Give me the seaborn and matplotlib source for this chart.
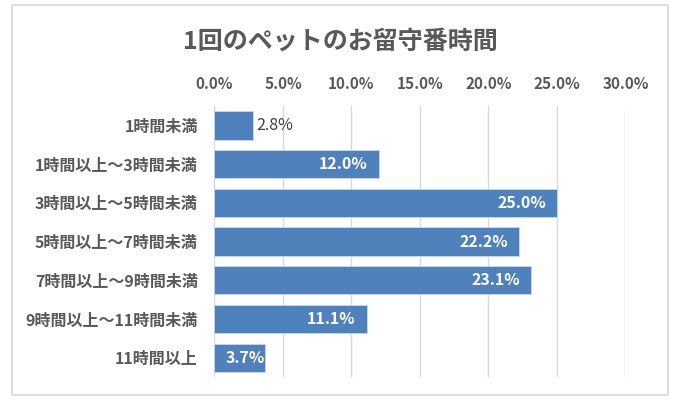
import matplotlib
matplotlib.use('Agg')
import matplotlib.pyplot as plt
from matplotlib.patches import Rectangle
from matplotlib.ticker import FuncFormatter, MultipleLocator
import pandas as pd
import seaborn as sns

# Data
categories = ['1時間未満', '1時間以上～3時間未満', '3時間以上～5時間未満',
              '5時間以上～7時間未満', '7時間以上～9時間未満',
              '9時間以上～11時間未満', '11時間以上']
shares = [2.8, 12.0, 25.0, 22.2, 23.1, 11.1, 3.7]
title = '1回のペットのお留守番時間'

sns.set_style('white')
plt.rcParams['font.family'] = ['Noto Sans CJK JP', 'DejaVu Sans']

text_grey = '#595959'
bar_blue = '#4f81bd'

df = pd.DataFrame({'category': categories, 'share': shares})

fig = plt.figure(figsize=(7, 4.05), dpi=100, facecolor='white')
# Chart frame like the spreadsheet chart area
fig.patches.append(Rectangle((12 / 700, 1 - 395 / 405), 656 / 700, 390 / 405,
                             transform=fig.transFigure, fill=False,
                             edgecolor='#d9d9d9', lw=1.2))
ax = fig.add_axes([0.3064, 0.0691, 0.5871, 0.669])

sns.barplot(data=df, x='share', y='category', orient='h', color=bar_blue,
            saturation=1, width=0.73, edgecolor='#c9d9ee', linewidth=0.6,
            ax=ax, zorder=3)

ax.set_xlim(0, 30)
ax.set_ylim(6.5, -0.5)
ax.xaxis.set_major_locator(MultipleLocator(5))
ax.xaxis.set_major_formatter(FuncFormatter(lambda v, p: f'{v:.1f}%'))
ax.xaxis.tick_top()
ax.grid(axis='x', color='#d9d9d9', lw=1, zorder=0)
ax.tick_params(axis='both', length=0, colors=text_grey)
ax.tick_params(axis='x', pad=10, labelsize=11)
ax.tick_params(axis='y', pad=12, labelsize=11.5)
for lab in ax.get_xticklabels() + ax.get_yticklabels():
    lab.set_fontweight('bold')
for s in ax.spines.values():
    s.set_visible(False)
ax.set_xlabel('')
ax.set_ylabel('')

# Data labels: inside end in white, outside for the shortest bar,
# short bars keep the label inside from the bar start
for patch, val in zip(ax.patches, shares):
    yc = patch.get_y() + patch.get_height() / 2
    end = patch.get_x() + patch.get_width()
    label = f'{val:.1f}%'
    if val < 3.0:
        ax.text(end + 0.25, yc, label, va='center', ha='left',
                color='#404040', fontsize=11.5, zorder=4)
    elif val < 6.0:
        ax.text(patch.get_x() + 0.8, yc, label, va='center', ha='left',
                color='white', fontsize=11.5, fontweight='bold', zorder=4)
    else:
        ax.text(end - 0.8, yc, label, va='center', ha='right',
                color='white', fontsize=11.5, fontweight='bold', zorder=4)

fig.text(340 / 700, 1 - 42 / 405, title, ha='center', va='center',
         fontsize=18, fontweight='bold', color=text_grey)

fig.savefig('out.png', dpi=100, facecolor='white')
